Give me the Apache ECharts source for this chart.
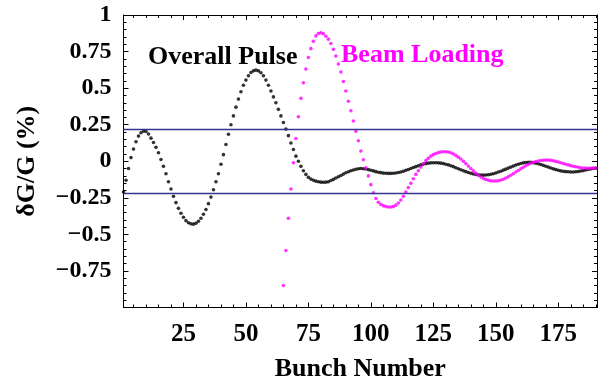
<!DOCTYPE html>
<html>
<head>
<meta charset="utf-8">
<script src="https://cdn.jsdelivr.net/npm/echarts@6/dist/echarts.min.js"></script>
<style>
html,body{margin:0;padding:0;background:#fff;}
#chart{width:598px;height:381px;}
</style>
</head>
<body>
<div id="chart"></div>
<script>
// Bunch numbers (x values)
const bunches = [1,2,3,4,5,6,7,8,9,10,11,12,13,14,15,16,17,18,19,20,21,22,23,24,25,26,27,28,29,30,
31,32,33,34,35,36,37,38,39,40,41,42,43,44,45,46,47,48,49,50,51,52,53,54,55,56,57,58,59,60,
61,62,63,64,65,66,67,68,69,70,71,72,73,74,75,76,77,78,79,80,81,82,83,84,85,86,87,88,89,90,
91,92,93,94,95,96,97,98,99,100,101,102,103,104,105,106,107,108,109,110,111,112,113,114,115,116,117,118,119,120,
121,122,123,124,125,126,127,128,129,130,131,132,133,134,135,136,137,138,139,140,141,142,143,144,145,146,147,148,149,150,
151,152,153,154,155,156,157,158,159,160,161,162,163,164,165,166,167,168,169,170,171,172,173,174,175,176,177,178,179,180,
181,182,183,184,185,186,187,188,189,190,191];

// Overall Pulse, dG/G (%) for bunches 1..191
const overallPulse = [
-0.21,-0.13,-0.05,0.025,0.083,0.133,0.172,0.195,0.206,0.203,
0.186,0.158,0.128,0.095,0.058,0.012,-0.035,-0.085,-0.14,-0.19,
-0.24,-0.283,-0.322,-0.356,-0.383,-0.406,-0.42,-0.428,-0.43,-0.424,
-0.41,-0.39,-0.362,-0.33,-0.29,-0.245,-0.195,-0.14,-0.085,-0.02,
0.045,0.115,0.185,0.25,0.31,0.37,0.425,0.475,0.52,0.555,
0.585,0.607,0.618,0.623,0.618,0.605,0.585,0.555,0.52,0.48,
0.44,0.40,0.355,0.31,0.265,0.22,0.175,0.125,0.08,0.035,
0.0,-0.035,-0.065,-0.09,-0.11,-0.122,-0.13,-0.136,-0.14,-0.143,
-0.144,-0.143,-0.14,-0.132,-0.124,-0.115,-0.106,-0.097,-0.088,-0.079,
-0.072,-0.065,-0.06,-0.055,-0.051,-0.05,-0.051,-0.053,-0.057,-0.062,
-0.066,-0.071,-0.075,-0.078,-0.081,-0.082,-0.083,-0.083,-0.082,-0.08,
-0.077,-0.073,-0.068,-0.062,-0.056,-0.05,-0.043,-0.037,-0.031,-0.025,
-0.02,-0.016,-0.013,-0.011,-0.01,-0.01,-0.011,-0.013,-0.016,-0.02,
-0.025,-0.031,-0.037,-0.044,-0.051,-0.058,-0.065,-0.071,-0.077,-0.082,
-0.087,-0.09,-0.093,-0.094,-0.095,-0.094,-0.092,-0.089,-0.085,-0.08,
-0.074,-0.068,-0.061,-0.054,-0.047,-0.04,-0.033,-0.026,-0.02,-0.015,
-0.011,-0.009,-0.008,-0.008,-0.01,-0.013,-0.017,-0.022,-0.028,-0.034,
-0.04,-0.046,-0.052,-0.057,-0.062,-0.066,-0.069,-0.071,-0.072,-0.073,
-0.073,-0.072,-0.07,-0.067,-0.064,-0.06,-0.056,-0.053,-0.05,-0.048,
-0.047];

// Beam Loading, dG/G (%) for bunches 65..191
const beamLoadingBunches = bunches.slice(64);
const beamLoading = [
-0.85,-0.61,-0.39,-0.19,-0.01,0.156,0.304,0.43,0.536,0.63,
0.709,0.77,0.82,0.857,0.873,0.878,0.872,0.855,0.835,0.805,
0.765,0.72,0.665,0.61,0.545,0.48,0.41,0.345,0.275,0.205,
0.14,0.07,0.01,-0.045,-0.10,-0.16,-0.215,-0.255,-0.28,-0.295,
-0.305,-0.31,-0.313,-0.313,-0.31,-0.30,-0.285,-0.265,-0.24,-0.21,
-0.18,-0.15,-0.12,-0.09,-0.065,-0.04,-0.015,0.005,0.02,0.035,
0.045,0.053,0.059,0.063,0.065,0.065,0.063,0.058,0.05,0.04,
0.028,0.015,0.0,-0.016,-0.033,-0.05,-0.066,-0.082,-0.096,-0.108,
-0.118,-0.125,-0.13,-0.134,-0.135,-0.135,-0.133,-0.129,-0.123,-0.115,
-0.106,-0.096,-0.085,-0.074,-0.063,-0.052,-0.041,-0.031,-0.022,-0.014,
-0.007,-0.002,0.002,0.005,0.007,0.008,0.008,0.006,0.003,-0.001,
-0.005,-0.01,-0.015,-0.02,-0.025,-0.03,-0.034,-0.038,-0.041,-0.044,
-0.046,-0.047,-0.048,-0.048,-0.047,-0.046,-0.045];

// Tolerance lines
const toleranceLevels = [0.22, -0.22];

// Ticks
const xLabelTicks = [25, 50, 75, 100, 125, 150, 175];
const xMinorTicks = [5,10,15,20,30,35,40,45,55,60,65,70,80,85,90,95,105,110,115,120,130,135,140,145,155,160,165,170,180,185,190];
const yLabelValues = [1, 0.75, 0.5, 0.25, 0, -0.25, -0.5, -0.75];

const FONT = '"Liberation Serif", "Times New Roman", serif';

const chart = echarts.init(document.getElementById('chart'), null, {renderer: 'canvas'});

function fmtY(v) {
  const r = Math.round(v * 100) / 100;
  if (!yLabelValues.some(t => Math.abs(t - r) < 1e-9)) return '';
  if (r === 0) return '0';
  const s = String(Math.abs(r));
  return (r < 0 ? '\u2212' : '') + s;
}

const axisLineStyle = {show: true, onZero: false, lineStyle: {color: '#000', width: 1}};

const xCommon = {
  type: 'value', min: 1, max: 190.5,
  splitLine: {show: false},
  axisLine: axisLineStyle
};

const option = {
  animation: false,
  backgroundColor: '#fff',
  grid: {left: 123.5, right: 1, top: 15, bottom: 73.5, containLabel: false, outerBoundsMode: 'none'},
  xAxis: [
    Object.assign({}, xCommon, {
      position: 'bottom',
      name: 'Bunch Number', nameLocation: 'middle', nameGap: 49,
      nameTextStyle: {fontFamily: FONT, fontWeight: 'bold', fontSize: 26, color: '#000'},
      axisTick: {show: true, inside: true, length: 5, customValues: xLabelTicks, lineStyle: {color: '#000'}},
      axisLabel: {show: true, customValues: xLabelTicks, margin: 15, fontFamily: FONT, fontWeight: 'bold', fontSize: 25, color: '#000'}
    }),
    Object.assign({}, xCommon, {
      position: 'bottom',
      axisTick: {show: true, inside: true, length: 3, customValues: xMinorTicks, lineStyle: {color: '#000'}},
      axisLabel: {show: false}
    }),
    Object.assign({}, xCommon, {
      position: 'top',
      axisTick: {show: true, inside: true, length: 5, customValues: xLabelTicks, lineStyle: {color: '#000'}},
      axisLabel: {show: false}
    }),
    Object.assign({}, xCommon, {
      position: 'top',
      axisTick: {show: true, inside: true, length: 3, customValues: xMinorTicks, lineStyle: {color: '#000'}},
      axisLabel: {show: false}
    })
  ],
  yAxis: [
    {
      type: 'value', min: -1, max: 1, interval: 0.25, position: 'left',
      name: '\u03b4G/G (%)', nameLocation: 'middle', nameGap: 83, nameRotate: 90,
      nameTextStyle: {fontFamily: FONT, fontWeight: 'bold', fontSize: 26, color: '#000'},
      axisLine: axisLineStyle,
      axisTick: {show: true, inside: true, length: 5, lineStyle: {color: '#000'}},
      minorTick: {show: true, splitNumber: 5, length: 3, lineStyle: {color: '#000'}},
      splitLine: {show: false},
      axisLabel: {show: true, margin: 12, formatter: fmtY, fontFamily: FONT, fontWeight: 'bold', fontSize: 24, color: '#000'}
    },
    {
      type: 'value', min: -1, max: 1, interval: 0.25, position: 'right',
      axisLine: axisLineStyle,
      axisTick: {show: true, inside: true, length: 5, lineStyle: {color: '#000'}},
      minorTick: {show: true, splitNumber: 5, length: 3, lineStyle: {color: '#000'}},
      splitLine: {show: false},
      axisLabel: {show: false}
    }
  ],
  series: [
    {
      name: 'Overall Pulse', type: 'scatter', xAxisIndex: 0, yAxisIndex: 0,
      symbol: 'circle', symbolSize: 3.6,
      itemStyle: {color: '#000'},
      data: bunches.map((b, i) => [b, overallPulse[i]]),
      markLine: {
        silent: true, symbol: 'none', label: {show: false},
        lineStyle: {color: '#34348c', width: 1.3, type: 'solid'},
        data: toleranceLevels.map(v => ({yAxis: v}))
      }
    },
    {
      name: 'Beam Loading', type: 'scatter', xAxisIndex: 0, yAxisIndex: 0,
      symbol: 'circle', symbolSize: 3.6,
      itemStyle: {color: '#ff00ff'},
      data: beamLoadingBunches.map((b, i) => [b, beamLoading[i]])
    }
  ],
  graphic: [
    {type: 'text', left: 148, top: 44, style: {text: 'Overall Pulse', fill: '#000', font: 'bold 26px ' + FONT}},
    {type: 'text', left: 341, top: 42, style: {text: 'Beam Loading', fill: '#ff00ff', font: 'bold 26px ' + FONT}}
  ]
};

chart.setOption(option);
</script>
</body>
</html>
